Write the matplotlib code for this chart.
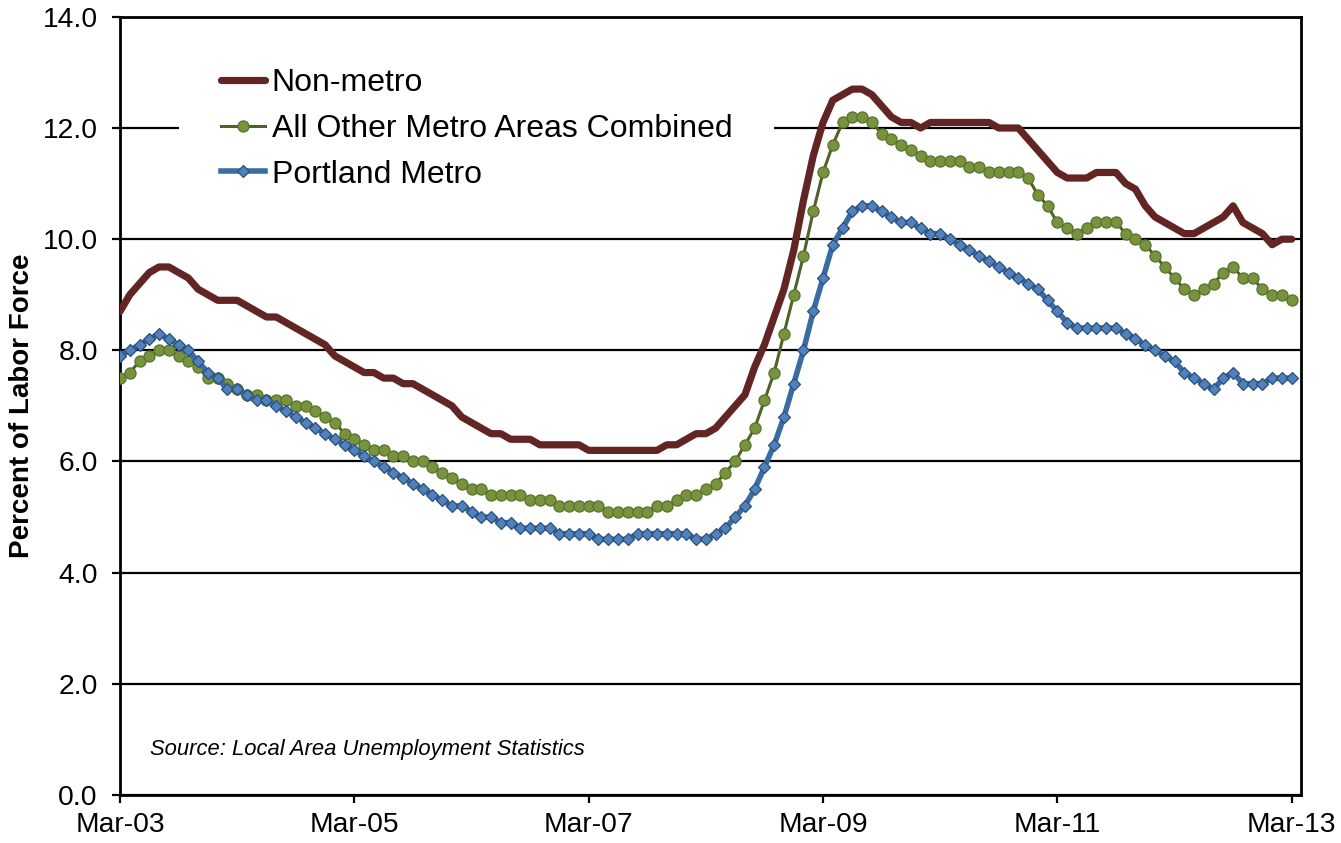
import numpy as np
import matplotlib
matplotlib.use("Agg")
from matplotlib import pyplot as plt
from matplotlib.ticker import FormatStrFormatter

plt.rcParams['font.family'] = ['Liberation Sans', 'DejaVu Sans']

# monthly unemployment rate, Mar-03 .. Mar-13 (121 months), one row per year
non_metro = [
    8.7, 9.0, 9.2, 9.4, 9.5, 9.5, 9.4, 9.3, 9.1, 9.0, 8.9, 8.9,
    8.9, 8.8, 8.7, 8.6, 8.6, 8.5, 8.4, 8.3, 8.2, 8.1, 7.9, 7.8,
    7.7, 7.6, 7.6, 7.5, 7.5, 7.4, 7.4, 7.3, 7.2, 7.1, 7.0, 6.8,
    6.7, 6.6, 6.5, 6.5, 6.4, 6.4, 6.4, 6.3, 6.3, 6.3, 6.3, 6.3,
    6.2, 6.2, 6.2, 6.2, 6.2, 6.2, 6.2, 6.2, 6.3, 6.3, 6.4, 6.5,
    6.5, 6.6, 6.8, 7.0, 7.2, 7.7, 8.1, 8.6, 9.1, 9.8, 10.7, 11.5,
    12.1, 12.5, 12.6, 12.7, 12.7, 12.6, 12.4, 12.2, 12.1, 12.1, 12.0, 12.1,
    12.1, 12.1, 12.1, 12.1, 12.1, 12.1, 12.0, 12.0, 12.0, 11.8, 11.6, 11.4,
    11.2, 11.1, 11.1, 11.1, 11.2, 11.2, 11.2, 11.0, 10.9, 10.6, 10.4, 10.3,
    10.2, 10.1, 10.1, 10.2, 10.3, 10.4, 10.6, 10.3, 10.2, 10.1, 9.9, 10.0,
    10.0,
]

other_metro = [
    7.5, 7.6, 7.8, 7.9, 8.0, 8.0, 7.9, 7.8, 7.7, 7.5, 7.5, 7.4,
    7.3, 7.2, 7.2, 7.1, 7.1, 7.1, 7.0, 7.0, 6.9, 6.8, 6.7, 6.5,
    6.4, 6.3, 6.2, 6.2, 6.1, 6.1, 6.0, 6.0, 5.9, 5.8, 5.7, 5.6,
    5.5, 5.5, 5.4, 5.4, 5.4, 5.4, 5.3, 5.3, 5.3, 5.2, 5.2, 5.2,
    5.2, 5.2, 5.1, 5.1, 5.1, 5.1, 5.1, 5.2, 5.2, 5.3, 5.4, 5.4,
    5.5, 5.6, 5.8, 6.0, 6.3, 6.6, 7.1, 7.6, 8.3, 9.0, 9.7, 10.5,
    11.2, 11.7, 12.1, 12.2, 12.2, 12.1, 11.9, 11.8, 11.7, 11.6, 11.5, 11.4,
    11.4, 11.4, 11.4, 11.3, 11.3, 11.2, 11.2, 11.2, 11.2, 11.1, 10.8, 10.6,
    10.3, 10.2, 10.1, 10.2, 10.3, 10.3, 10.3, 10.1, 10.0, 9.9, 9.7, 9.5,
    9.3, 9.1, 9.0, 9.1, 9.2, 9.4, 9.5, 9.3, 9.3, 9.1, 9.0, 9.0,
    8.9,
]

portland = [
    7.9, 8.0, 8.1, 8.2, 8.3, 8.2, 8.1, 8.0, 7.8, 7.6, 7.5, 7.3,
    7.3, 7.2, 7.1, 7.1, 7.0, 6.9, 6.8, 6.7, 6.6, 6.5, 6.4, 6.3,
    6.2, 6.1, 6.0, 5.9, 5.8, 5.7, 5.6, 5.5, 5.4, 5.3, 5.2, 5.2,
    5.1, 5.0, 5.0, 4.9, 4.9, 4.8, 4.8, 4.8, 4.8, 4.7, 4.7, 4.7,
    4.7, 4.6, 4.6, 4.6, 4.6, 4.7, 4.7, 4.7, 4.7, 4.7, 4.7, 4.6,
    4.6, 4.7, 4.8, 5.0, 5.2, 5.5, 5.9, 6.3, 6.8, 7.4, 8.0, 8.7,
    9.3, 9.9, 10.2, 10.5, 10.6, 10.6, 10.5, 10.4, 10.3, 10.3, 10.2, 10.1,
    10.1, 10.0, 9.9, 9.8, 9.7, 9.6, 9.5, 9.4, 9.3, 9.2, 9.1, 8.9,
    8.7, 8.5, 8.4, 8.4, 8.4, 8.4, 8.4, 8.3, 8.2, 8.1, 8.0, 7.9,
    7.8, 7.6, 7.5, 7.4, 7.3, 7.5, 7.6, 7.4, 7.4, 7.4, 7.5, 7.5,
    7.5,
]

tick_labels = ['Mar-03', 'Mar-05', 'Mar-07', 'Mar-09', 'Mar-11', 'Mar-13']

months = np.arange(len(non_metro))

fig = plt.figure(figsize=(13.41, 8.43), dpi=100)
ax = fig.add_axes([0.0895, 0.057, 0.881, 0.923])

ax.plot(months, non_metro, color='#632523', lw=5.2, solid_capstyle='round',
        solid_joinstyle='round', label='Non-metro', zorder=3)
ax.plot(months, other_metro, color='#4F6228', lw=2.2, marker='o', ms=8,
        mfc='#77933C', mec='#5A7230', mew=0.9, label='All Other Metro Areas Combined', zorder=4)
ax.plot(months, portland, color='#3A6CA4', lw=4, marker='D', ms=6.2,
        mfc='#4F81BD', mec='#2C4F7A', mew=0.9, label='Portland Metro', zorder=5)

ax.set_xlim(0, 121)
ax.set_ylim(0, 14)
ax.set_xticks(np.arange(0, 121, 24))
ax.set_xticklabels(tick_labels)
ax.set_yticks(np.arange(0, 14.1, 2))
ax.yaxis.set_major_formatter(FormatStrFormatter('%.1f'))
ax.tick_params(axis='both', labelsize=20.3, length=6, width=1.6, direction='out', color='black')
ax.tick_params(axis='y', pad=10)
ax.tick_params(axis='x', pad=6)

ax.grid(axis='y', color='black', lw=1.6, zorder=1)
ax.set_axisbelow(True)
for s in ax.spines.values():
    s.set_linewidth(2)
    s.set_color('black')

ax.set_ylabel('Percent of Labor Force', fontsize=20, fontweight='bold')
ax.yaxis.set_label_coords(-0.072, 0.5)

ax.text(0.025, 0.058, 'Source: Local Area Unemployment Statistics', transform=ax.transAxes,
        fontsize=15.8, fontstyle='italic', va='center', ha='left')

leg = ax.legend(loc='upper left', bbox_to_anchor=(0.05, 0.988), borderaxespad=0,
                fontsize=23, frameon=True, facecolor='white', edgecolor='none', framealpha=1,
                handlelength=1.4, handletextpad=0.2, labelspacing=0.5, borderpad=1.3)

fig.savefig('out.png', dpi=100)
